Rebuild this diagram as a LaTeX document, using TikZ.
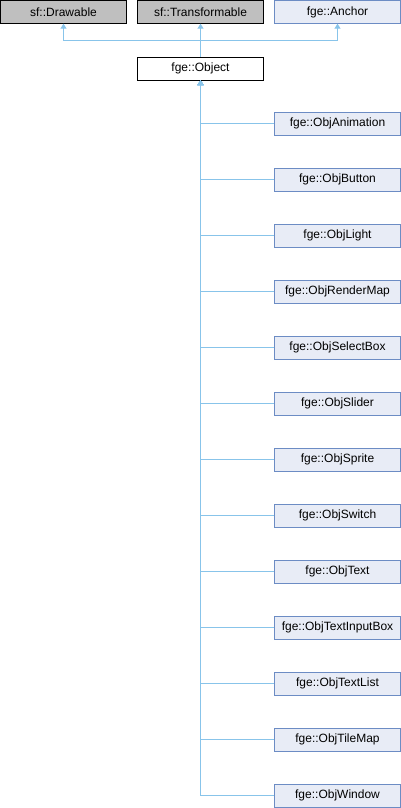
\documentclass[tikz,border=0pt]{standalone}
\usepackage{fontspec}
\setmainfont{Liberation Sans}
\usetikzlibrary{arrows.meta}

\definecolor{edgeBlue}{RGB}{136,196,234}
\definecolor{boxBlue}{RGB}{232,236,246}
\definecolor{lineBlue}{RGB}{108,140,196}
\definecolor{boxGray}{RGB}{191,191,191}

\tikzstyle{extClass}=[shape=rectangle,draw=black,fill=boxGray,minimum width=126pt,minimum height=23pt,inner sep=0pt,font=\fontsize{12}{14}\selectfont]
\tikzstyle{docClass}=[extClass,draw=lineBlue,fill=boxBlue]
\tikzstyle{curClass}=[extClass,draw=black,fill=white]
\tikzstyle{inherit}=[draw=edgeBlue,line width=1pt,-{Triangle[length=5pt,width=6pt,fill=edgeBlue]}]

\begin{document}
\begin{tikzpicture}[x=1pt,y=-1pt]
        \useasboundingbox (0,0) rectangle (401,808);
        % bases
        \node[extClass] (drawable) at (63.5,12)  {sf::Drawable};
        \node[extClass] (transf)   at (200.5,12) {sf::Transformable};
        \node[docClass] (anchor)   at (337.5,12) {fge::Anchor};
        \node[curClass] (object)   at (200.5,68.5) {fge::Object};
        \coordinate (join) at (200.5,41);

        % derived
        \node[docClass] (anim)   at (337.5,123.5) {fge::ObjAnimation};
        \node[docClass] (button) at (337.5,179.5) {fge::ObjButton};
        \node[docClass] (light)  at (337.5,235.5) {fge::ObjLight};
        \node[docClass] (rmap)   at (337.5,291.5) {fge::ObjRenderMap};
        \node[docClass] (sbox)   at (337.5,347.5) {fge::ObjSelectBox};
        \node[docClass] (slider) at (337.5,403.5) {fge::ObjSlider};
        \node[docClass] (sprite) at (337.5,459.5) {fge::ObjSprite};
        \node[docClass] (switch) at (337.5,515.5) {fge::ObjSwitch};
        \node[docClass] (text)   at (337.5,571.5) {fge::ObjText};
        \node[docClass] (tibox)  at (337.5,627.5) {fge::ObjTextInputBox};
        \node[docClass] (tlist)  at (337.5,683.5) {fge::ObjTextList};
        \node[docClass] (tmap)   at (337.5,739.5) {fge::ObjTileMap};
        \node[docClass] (window) at (337.5,795.5) {fge::ObjWindow};

        \draw [inherit] (object.north) -- (join) -| (drawable.south);
        \draw [inherit] (object.north) -- (transf.south);
        \draw [inherit] (object.north) -- (join) -| (anchor.south);

        \draw [inherit] (anim.west)   -| (object.south);
        \draw [inherit] (button.west) -| (object.south);
        \draw [inherit] (light.west)  -| (object.south);
        \draw [inherit] (rmap.west)   -| (object.south);
        \draw [inherit] (sbox.west)   -| (object.south);
        \draw [inherit] (slider.west) -| (object.south);
        \draw [inherit] (sprite.west) -| (object.south);
        \draw [inherit] (switch.west) -| (object.south);
        \draw [inherit] (text.west)   -| (object.south);
        \draw [inherit] (tibox.west)  -| (object.south);
        \draw [inherit] (tlist.west)  -| (object.south);
        \draw [inherit] (tmap.west)   -| (object.south);
        \draw [inherit] (window.west) -| (object.south);
    \end{tikzpicture}
\end{document}
